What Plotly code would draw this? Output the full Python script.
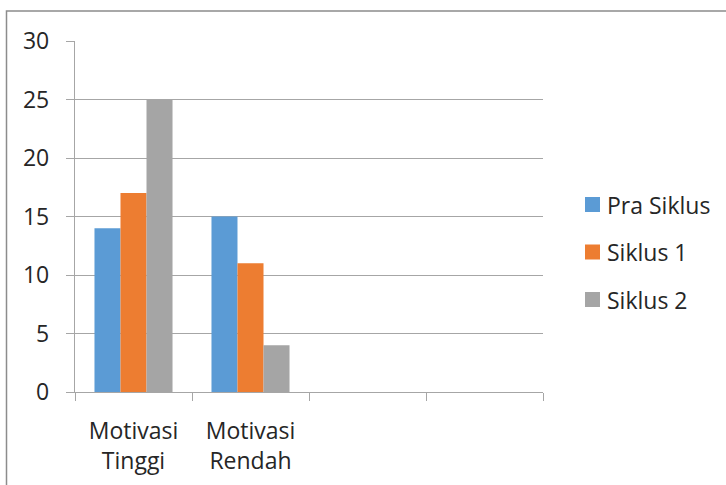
import plotly.graph_objects as go

categories = ["Motivasi<br>Tinggi", "Motivasi<br>Rendah", " ", "  "]
pra_siklus = [14, 15, None, None]
siklus_1 = [17, 11, None, None]
siklus_2 = [25, 4, None, None]
series_names = ["Pra Siklus", "Siklus 1", "Siklus 2"]
colors = ["#5B9BD5", "#ED7D31", "#A5A5A5"]

FONT = "Open Sans, Segoe UI, sans-serif"
FS = 23
TXT = "#262626"
W, H = 726, 485
ML, MR, MT, MB = 75, 183, 41, 93

fig = go.Figure()
for name, vals, col in zip(series_names, [pra_siklus, siklus_1, siklus_2], colors):
    fig.add_trace(go.Bar(
        x=categories, y=vals, name=name, marker_color=col,
        marker_line_width=0, showlegend=False,
    ))

grid = "#A6A6A6"
fig.update_layout(
    width=W, height=H,
    margin=dict(l=ML, r=MR, t=MT, b=MB),
    paper_bgcolor="white", plot_bgcolor="white",
    barmode="group", bargap=0.333, bargroupgap=0,
    font=dict(family=FONT, size=FS, color=TXT),
    xaxis=dict(
        type="category", categoryorder="array", categoryarray=categories,
        range=[-0.5, 3.5], tickson="boundaries", automargin=False,
        ticks="outside", ticklen=8, tickcolor=grid, tickwidth=1.3,
        showline=True, linecolor=grid, linewidth=1.3,
        showgrid=False, fixedrange=True, ticklabelstandoff=18,
        tickfont=dict(size=FS, family=FONT, color=TXT),
    ),
    yaxis=dict(
        range=[0, 30], dtick=5, tick0=0, automargin=False,
        showgrid=True, gridcolor=grid, gridwidth=1.3,
        ticks="outside", ticklen=8, tickcolor=grid, tickwidth=1.3,
        showline=True, linecolor=grid, linewidth=1.3,
        zeroline=False, ticklabelstandoff=12,
        tickfont=dict(size=FS, family=FONT, color=TXT),
    ),
)

pw, ph = W - ML - MR, H - MT - MB
def px_x(p):
    return (p - ML) / pw
def px_y(p):
    return (H - MB - p) / ph

# legend: colour swatch + series name
for i, (name, col) in enumerate(zip(series_names, colors)):
    cy = 204.5 + i * 47.5
    fig.add_shape(
        type="rect", xref="paper", yref="paper",
        x0=px_x(585), x1=px_x(600), y0=px_y(cy + 7.5), y1=px_y(cy - 7.5),
        fillcolor=col, line_width=0,
    )
    fig.add_annotation(
        xref="paper", yref="paper", x=px_x(605), y=px_y(cy),
        text=name, showarrow=False, xanchor="left", yanchor="middle",
        font=dict(size=FS, family=FONT, color=TXT),
    )

# outer chart frame (top and left edges visible)
fig.add_shape(
    type="rect", xref="paper", yref="paper",
    x0=px_x(6.5), x1=px_x(W + 20), y0=px_y(H + 20), y1=px_y(11),
    line=dict(color="#8C8C8C", width=1.5), fillcolor="rgba(0,0,0,0)",
    layer="above",
)

fig.write_html("out.html")
